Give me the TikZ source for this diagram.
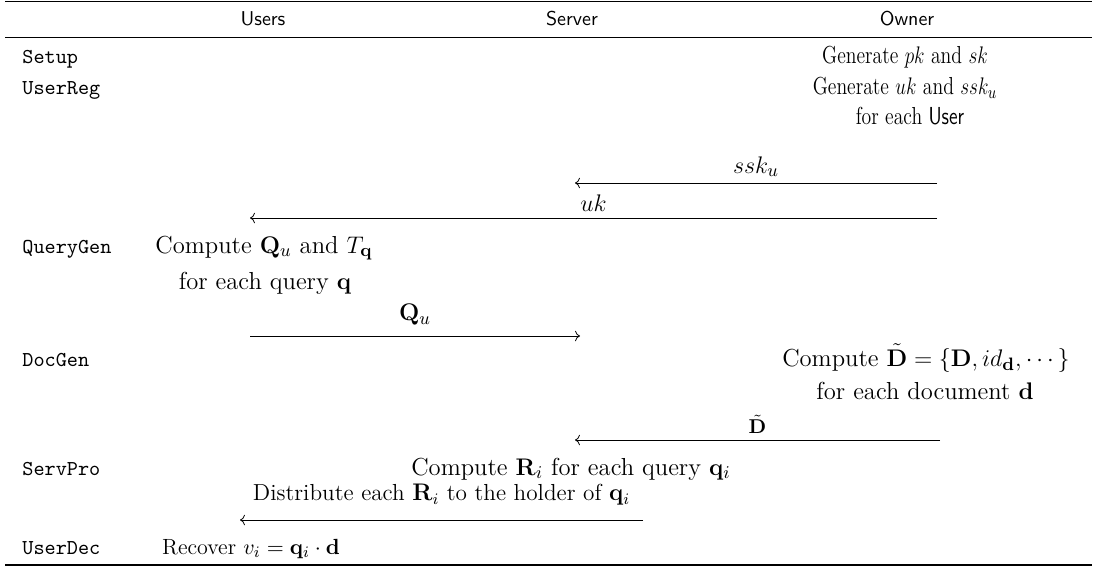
\documentclass[tikz,border=0pt]{standalone}
\usepackage{amsmath}
\usepackage{graphicx}
\usepackage{tikz}
\usetikzlibrary{arrows.meta}

% owner-side steps are set narrower
\newcommand{\narrowtext}[1]{\scalebox{0.8}[1]{#1}}

\begin{document}
\begin{tikzpicture}[x=0.5pt, y=-0.5pt,
    phase/.style={anchor=base west, font=\fontsize{10.6}{12}\selectfont\ttfamily, inner sep=0pt},
    role/.style={anchor=base, font=\sffamily, inner sep=0pt},
    task/.style={anchor=base, inner sep=0pt, font=\fontsize{12.3}{14}\selectfont},
    msg/.style={line width=0.4pt, -{Computer Modern Rightarrow}},
    tag/.style={above, inner sep=3pt, font=\fontsize{12.3}{14}\selectfont},
    heavyrule/.style={line width=0.8pt},
    lightrule/.style={line width=0.5pt}]
  \useasboundingbox (0,0) rectangle (1096,567);

  % header
  \draw[heavyrule] (5,1.5) -- (1092,1.5);
  \node[role] (users) at (263,26) {Users};
  \node[role] (server) at (572,26) {Server};
  \node[role] (owner) at (907,26) {Owner};
  \draw[lightrule] (5,37.5) -- (1092,37.5);

  % phases
  \node[phase] (setup) at (22,64) {Setup};
  \node[phase] (userreg) at (22,95) {UserReg};
  \node[phase] (querygen) at (22,253) {QueryGen};
  \node[phase] (docgen) at (22,366) {DocGen};
  \node[phase] (servpro) at (22,475) {ServPro};
  \node[phase] (userdec) at (22,554) {UserDec};

  % owner side
  \node[task] (genpk) at (905,64) {\narrowtext{Generate $pk$ and $sk$}};
  \node[task] (genuk) at (905,95) {\narrowtext{Generate $uk$ and $ssk_u$}};
  \node[task] (peruser) at (910,125) {\narrowtext{for each \textsf{User}}};
  \node[task] (compd) at (926,366) {Compute $\tilde{\mathbf{D}}=\{\mathbf{D},id_{\mathbf{d}},\cdots\}$};
  \node[task] (perdoc) at (925,399) {for each document $\mathbf{d}$};

  % user side
  \node[task] (compq) at (264,253) {Compute $\mathbf{Q}_u$ and $T_{\mathbf{q}}$};
  \node[task] (perquery) at (265,289) {for each query $\mathbf{q}$};
  \node[task, font=\fontsize{11}{13}\selectfont] (recover) at (251,554) {Recover $v_i=\mathbf{q}_i\cdot\mathbf{d}$};

  % server side
  \node[task] (compr) at (571,475) {Compute $\mathbf{R}_i$ for each query $\mathbf{q}_i$};

  % lane ends
  \coordinate (o1) at (937,183);
  \coordinate (s1) at (575,183);
  \coordinate (o2) at (937,218);
  \coordinate (u2) at (250,218);
  \coordinate (u3) at (250,336);
  \coordinate (s3) at (580,336);
  \coordinate (o4) at (940,440);
  \coordinate (s4) at (575,440);
  \coordinate (s5) at (643,520);
  \coordinate (u5) at (240,520);

  % messages
  \draw[msg] (o1) -- node[tag] {$ssk_u$} (s1);
  \draw[msg] (o2) -- node[tag] {$uk$} (u2);
  \draw[msg] (u3) -- node[tag, inner sep=5pt] {$\mathbf{Q}_u$} (s3);
  \draw[msg] (o4) -- node[tag, font=\normalsize] {$\tilde{\mathbf{D}}$} (s4);
  \draw[msg] (s5) -- node[tag, font=\fontsize{11.6}{13}\selectfont, inner sep=7pt] {Distribute each $\mathbf{R}_i$ to the holder of $\mathbf{q}_i$} (u5);

  \draw[heavyrule] (5,565) -- (1092,565);
\end{tikzpicture}
\end{document}
